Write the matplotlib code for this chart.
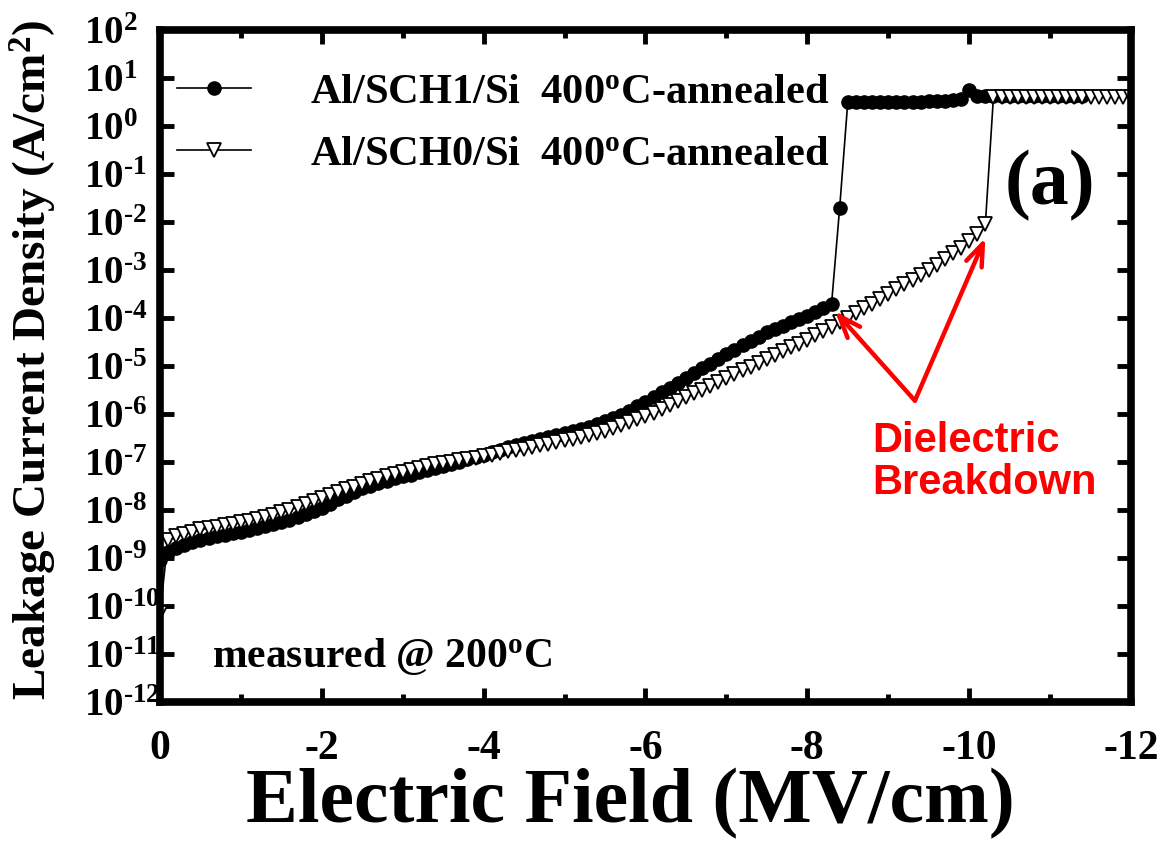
import numpy as np
import matplotlib
matplotlib.use("Agg")
import matplotlib.pyplot as plt
from matplotlib.ticker import FixedLocator, FuncFormatter, MultipleLocator

plt.rcParams['font.family'] = ['Liberation Serif', 'DejaVu Serif']
plt.rcParams['font.weight'] = 'bold'
plt.rcParams['mathtext.fontset'] = 'custom'
plt.rcParams['mathtext.rm'] = 'Liberation Serif:bold'
plt.rcParams['mathtext.bf'] = 'Liberation Serif:bold'
plt.rcParams['mathtext.it'] = 'Liberation Serif:bold:italic'

# ---------------- data ----------------
field_step = -0.1  # MV/cm sampling step

# Al/SCH1/Si 400C-annealed : log10(J) at 0, -0.1, -0.2 ... MV/cm
logJ_sch1 = [
    -9.05, -8.88, -8.80, -8.73, -8.67, -8.62, -8.58, -8.55, -8.51, -8.48,
    -8.45, -8.42, -8.38, -8.34, -8.30, -8.25, -8.21, -8.15, -8.08, -8.02,
    -7.95, -7.87, -7.78, -7.70, -7.62, -7.55, -7.50, -7.44, -7.39, -7.34,
    -7.30, -7.26, -7.21, -7.17, -7.12, -7.08, -7.04, -6.99, -6.94, -6.89,
    -6.85, -6.79, -6.74, -6.69, -6.64, -6.60, -6.56, -6.52, -6.48, -6.44,
    -6.40, -6.36, -6.31, -6.26, -6.21, -6.15, -6.08, -6.01, -5.93, -5.84,
    -5.75, -5.65, -5.55, -5.45, -5.35, -5.25, -5.15, -5.05, -4.95, -4.85,
    -4.75, -4.66, -4.57, -4.48, -4.39, -4.30, -4.23, -4.16, -4.09, -4.02,
    -3.95, -3.87, -3.79, -3.70, -1.70,
    0.50, 0.50, 0.50, 0.50, 0.50, 0.50, 0.50, 0.51, 0.51, 0.51,
    0.52, 0.52, 0.53, 0.54, 0.56, 0.75, 0.62, 0.62, 0.62, 0.62,
    0.62, 0.62, 0.62, 0.62, 0.62, 0.62, 0.62, 0.62, 0.62, 0.62,
]

# Al/SCH0/Si 400C-annealed : log10(J) at 0, -0.1, -0.2 ... MV/cm
logJ_sch0 = [
    -10.15, -8.62, -8.55, -8.50, -8.45, -8.40, -8.38, -8.35, -8.32, -8.29,
    -8.25, -8.22, -8.18, -8.14, -8.10, -8.05, -8.00, -7.94, -7.88, -7.81,
    -7.75, -7.69, -7.63, -7.57, -7.51, -7.45, -7.40, -7.35, -7.30, -7.25,
    -7.20, -7.16, -7.12, -7.09, -7.05, -7.02, -6.99, -6.96, -6.93, -6.91,
    -6.88, -6.85, -6.82, -6.78, -6.75, -6.72, -6.69, -6.65, -6.62, -6.58,
    -6.55, -6.51, -6.47, -6.43, -6.39, -6.35, -6.29, -6.23, -6.17, -6.11,
    -6.05, -5.97, -5.89, -5.81, -5.73, -5.65, -5.57, -5.49, -5.41, -5.33,
    -5.25, -5.17, -5.09, -5.01, -4.93, -4.85, -4.77, -4.69, -4.61, -4.53,
    -4.45, -4.36, -4.27, -4.18, -4.09, -4.00, -3.90, -3.80, -3.70, -3.60,
    -3.50, -3.40, -3.30, -3.20, -3.10, -3.00, -2.89, -2.77, -2.65, -2.53,
    -2.40, -2.25, -2.05,
    0.60, 0.60, 0.60, 0.60, 0.60, 0.60, 0.60, 0.60, 0.60, 0.60,
    0.60, 0.60, 0.60, 0.60, 0.60, 0.60, 0.60, 0.60,
]

labels = [r"Al/SCH1/Si  400$^{\mathbf{o}}$C-annealed",
          r"Al/SCH0/Si  400$^{\mathbf{o}}$C-annealed"]
x_ticks = [0, -2, -4, -6, -8, -10, -12]
x_ticklabels = ["0", "-2", "-4", "-6", "-8", "-10", "-12"]
y_decades = list(range(-12, 3))

field_sch1 = np.round(np.arange(len(logJ_sch1)) * field_step, 2)
field_sch0 = np.round(np.arange(len(logJ_sch0)) * field_step, 2)
J_sch1 = 10.0 ** np.array(logJ_sch1)
J_sch0 = 10.0 ** np.array(logJ_sch0)


def decade_label(v, pos):
    e = int(round(np.log10(v)))
    s = str(e).replace("-", "\u2010")
    return r"$\mathbf{10^{%s}}$" % s


# ---------------- figure ----------------
fig = plt.figure(figsize=(11.65, 8.52), dpi=100)
ax = fig.add_axes([0.1373, 0.176, 0.8335, 0.7887])

ax.plot(field_sch1, J_sch1, '-', color='black', lw=1.2, marker='o',
        ms=9.5, mfc='black', mec='black', label=labels[0])
ax.plot(field_sch0, J_sch0, '-', color='black', lw=1.2, marker='v',
        ms=10, mfc='white', mec='black', mew=1.3, label=labels[1])

ax.set_yscale('log')
ax.set_xlim(0, -12)
ax.set_ylim(1e-12, 1e2)

ax.xaxis.set_major_locator(FixedLocator(x_ticks))
ax.set_xticklabels(x_ticklabels)
ax.xaxis.set_minor_locator(MultipleLocator(1))
ax.yaxis.set_major_locator(FixedLocator([10.0 ** d for d in y_decades]))
ax.yaxis.set_minor_locator(FixedLocator([]))
ax.yaxis.set_major_formatter(FuncFormatter(decade_label))

for s in ax.spines.values():
    s.set_linewidth(5.5)
    s.set_capstyle('projecting')

ax.tick_params(which='both', direction='in', top=True, right=True,
               width=3.5, color='black')
ax.tick_params(which='major', length=10)
ax.tick_params(which='minor', length=6)
ax.tick_params(axis='x', labelsize=30, pad=20)
ax.tick_params(axis='y', labelsize=28, pad=55)
for t in ax.get_yticklabels():
    t.set_horizontalalignment('left')
for t in ax.get_xticklabels():
    t.set_fontweight('bold')

ax.set_xlabel("Electric Field (MV/cm)", fontsize=56, fontweight='bold')
ax.xaxis.set_label_coords(0.484, -0.098)
ax.set_ylabel(r"Leakage Current Density (A/cm$^{\mathbf{2}}$)", fontsize=34,
              fontweight='bold')
ax.yaxis.set_label_coords(-0.104, 0.509)

leg = ax.legend(loc='upper left', bbox_to_anchor=(0.0, 0.961), frameon=False,
                fontsize=30.5, handlelength=1.75, handletextpad=1.4,
                labelspacing=0.55, borderaxespad=0.0)

ax.text(0.917, 0.769, "(a)", transform=ax.transAxes, fontsize=56,
        fontweight='bold', ha='center', va='center')
ax.text(0.054, 0.068, r"measured @ 200$^{\mathbf{o}}$C", transform=ax.transAxes,
        fontsize=30, fontweight='bold', ha='left', va='center')

# Dielectric breakdown annotation
vertex = (-9.33, 1.9e-6)
arrow_kw = dict(arrowstyle='->, head_length=1.6, head_width=0.6',
                color='red', lw=3.2, shrinkA=0, shrinkB=0)
ax.annotate("", xy=(-8.34, 1.4e-4), xytext=vertex, arrowprops=arrow_kw)
ax.annotate("", xy=(-10.2, 4.7e-3), xytext=vertex, arrowprops=arrow_kw)
ax.text(-8.8, 1.0e-7, "Dielectric\nBreakdown", color='red', fontsize=30,
        fontweight='bold', family=['Liberation Sans', 'DejaVu Sans'],
        ha='left', va='center', linespacing=1.05)

fig.savefig("out.png", dpi=100, facecolor='white')
